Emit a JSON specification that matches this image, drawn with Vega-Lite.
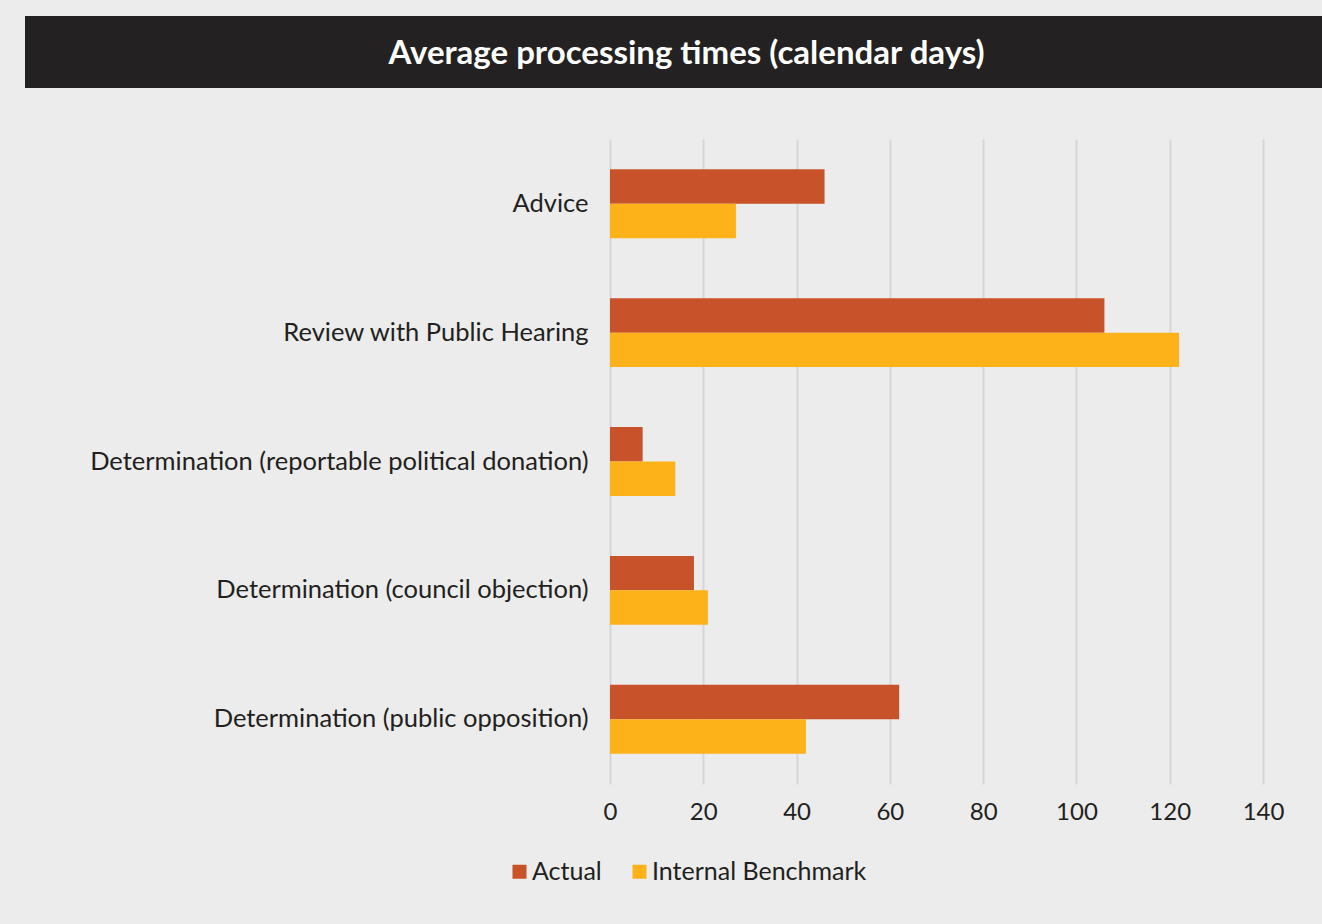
{
  "$schema": "https://vega.github.io/schema/vega-lite/v6.json",
  "background": "#ebeceb",
  "padding": {"left": 25, "top": 16, "right": 0, "bottom": 42},
  "bounds": "flush",
  "spacing": 51,
  "config": {
    "view": {"stroke": null},
    "font": "Lato",
    "axis": {"labelFont": "Lato", "labelColor": "#231f20"},
    "legend": {"labelFont": "Lato", "labelColor": "#231f20"}
  },
  "vconcat": [
    {
      "width": 1297,
      "height": 72,
      "view": {"fill": "#232122", "stroke": null},
      "data": {"values": [{"t": "Average processing times (calendar days)"}]},
      "mark": {"type": "text", "font": "Lato", "fontWeight": "bold", "fontSize": 33, "color": "#ffffff", "align": "center", "baseline": "middle", "dx": 13, "dy": 2},
      "encoding": {
        "x": {"field": "t", "type": "nominal", "axis": null},
        "y": {"field": "t", "type": "nominal", "axis": null},
        "text": {"field": "t"}
      }
    },
    {
      "bounds": "flush",
      "spacing": 0,
      "hconcat": [
        {
          "width": 584.5,
          "height": 645,
          "data": {"values": []},
          "mark": {"type": "text"}
        },
        {
          "width": 653,
          "height": 645,
          "data": {
            "values": [
              {"category": "Advice", "series": "Actual", "value": 46},
              {"category": "Advice", "series": "Internal Benchmark", "value": 27},
              {"category": "Review with Public Hearing", "series": "Actual", "value": 106},
              {"category": "Review with Public Hearing", "series": "Internal Benchmark", "value": 122},
              {"category": "Determination (reportable political donation)", "series": "Actual", "value": 7},
              {"category": "Determination (reportable political donation)", "series": "Internal Benchmark", "value": 14},
              {"category": "Determination (council objection)", "series": "Actual", "value": 18},
              {"category": "Determination (council objection)", "series": "Internal Benchmark", "value": 21},
              {"category": "Determination (public opposition)", "series": "Actual", "value": 62},
              {"category": "Determination (public opposition)", "series": "Internal Benchmark", "value": 42}
            ]
          },
          "mark": {"type": "bar"},
          "encoding": {
            "y": {
              "field": "category",
              "type": "nominal",
              "sort": null,
              "scale": {"paddingInner": 0.465, "paddingOuter": 0.235},
              "axis": {"title": null, "labelFontSize": 25.5, "labelPadding": 22, "ticks": false, "domain": false, "grid": false, "labelLimit": 0}
            },
            "yOffset": {
              "field": "series",
              "type": "nominal",
              "sort": ["Actual", "Internal Benchmark"],
              "scale": {"paddingInner": 0, "paddingOuter": 0}
            },
            "x": {
              "field": "value",
              "type": "quantitative",
              "scale": {"domain": [0, 140], "nice": false},
              "axis": {
                "title": null,
                "values": [0, 20, 40, 60, 80, 100, 120, 140],
                "grid": true,
                "gridColor": "#d6d6d6",
                "gridWidth": 2,
                "domain": false,
                "ticks": false,
                "labelFlush": false,
                "labelFontSize": 24,
                "labelPadding": 16
              }
            },
            "color": {
              "field": "series",
              "type": "nominal",
              "scale": {"domain": ["Actual", "Internal Benchmark"], "range": ["#c8532a", "#fdb21a"]},
              "legend": {
                "orient": "none",
                "direction": "horizontal",
                "legendX": 482,
                "legendY": 843,
                "title": null,
                "padding": 0,
                "symbolType": "square",
                "symbolSize": 196,
                "symbolStrokeWidth": 0,
                "labelFontSize": 25,
                "labelOffset": 0,
                "labelLimit": 0,
                "columnPadding": 25
              }
            }
          }
        }
      ]
    }
  ]
}
